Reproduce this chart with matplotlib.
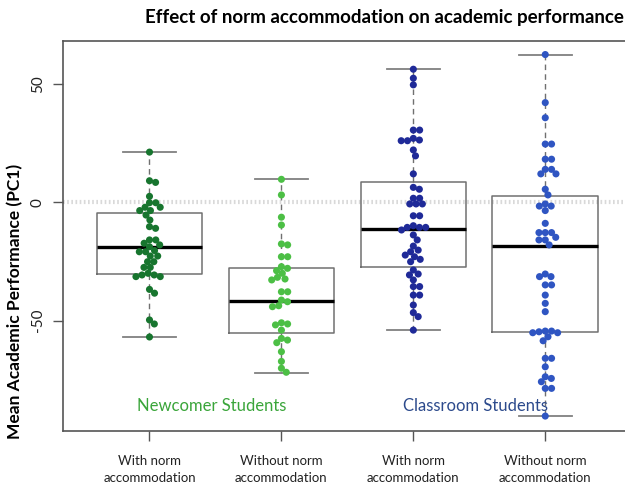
import numpy as np
import matplotlib
matplotlib.use("Agg")
import matplotlib.pyplot as plt

plt.rcParams['font.family'] = ['Lato', 'DejaVu Sans']

# group order on the x axis
groups = ["With norm\naccommodation", "Without norm\naccommodation",
          "With norm\naccommodation", "Without norm\naccommodation"]

# mean academic performance (PC1) per student
new_with = [21.2, 9.1, 8.4, 2.5, -0.2, -0.2, -2.1, -2.1, -3.5, -3.5, -5.4, -7.5,
            -10.3, -11.0, -15.9, -15.9, -17.3, -18.0, -18.8, -20.4, -20.9, -20.9,
            -22.7, -22.7, -25.1, -25.1, -27.5, -27.5, -30.0, -30.7, -30.7, -31.4,
            -31.4, -36.8, -38.4, -49.7, -51.4, -56.9]
new_without = [9.7, 3.1, -6.3, -9.6, -17.6, -18.0, -23.0, -23.0, -27.2, -27.9,
               -28.9, -30.0, -31.7, -32.4, -32.8, -37.8, -37.8, -41.3, -42.0,
               -43.7, -44.1, -50.9, -51.4, -51.8, -54.0, -57.5, -58.2, -59.3,
               -63.1, -67.2, -70.1, -71.8]
class_with = [56.2, 52.4, 49.6, 30.5, 30.5, 27.0, 26.3, 26.0, 26.0, 22.1, 19.6,
              12.0, 6.3, 5.5, 1.7, 1.7, -0.7, -0.7, -0.7, -5.7, -5.7, -9.9,
              -10.6, -10.6, -10.6, -11.7, -13.8, -15.9, -18.5, -20.2, -20.9,
              -22.3, -23.0, -24.1, -25.1, -28.6, -30.3, -30.7, -32.8, -35.6,
              -35.6, -39.2, -39.2, -43.4, -46.6, -48.3, -54.0]
class_without = [62.4, 42.1, 35.7, 24.6, 24.6, 18.2, 18.2, 13.9, 13.9, 12.0, 12.0,
                 5.5, 3.1, -0.7, -1.6, -1.6, -3.5, -8.9, -12.8, -12.8, -12.8,
                 -14.8, -15.9, -15.9, -18.0, -30.3, -31.4, -31.4, -34.9, -34.9,
                 -39.2, -42.7, -46.2, -54.4, -54.4, -54.7, -55.1, -55.1, -56.8,
                 -58.5, -65.9, -65.9, -69.5, -73.7, -74.4, -75.8, -78.6, -78.6,
                 -90.3]

# box summaries: lower whisker, Q1, median, Q3, upper whisker
whislo = [-56.9, -72.0, -54.1, -90.4]
q1 = [-30.3, -55.1, -27.2, -54.9]
med = [-18.9, -41.8, -11.3, -18.5]
q3 = [-4.5, -27.9, 8.7, 2.8]
whishi = [21.4, 9.7, 56.2, 62.4]

dot_colors = ["#17752e", "#4cbf45", "#1f2a98", "#2f55c2"]
series = [new_with, new_without, class_with, class_without]

fig = plt.figure(figsize=(6.25, 4.83), dpi=100)
ax = fig.add_axes([0.1003, 0.1077, 0.911, 0.8073])
ax.set_xlim(0.342, 4.658)
ax.set_ylim(-96.6, 68.1)

# dotted reference line at zero
ax.axhline(0, color="#d9d9d9", lw=3, ls=(0, (0.4, 0.6)), zorder=0)

stats = []
for i in range(4):
    stats.append(dict(whislo=whislo[i], q1=q1[i], med=med[i], q3=q3[i],
                      whishi=whishi[i], fliers=[]))
ax.bxp(stats, positions=[1, 2, 3, 4], widths=0.8, showfliers=False,
       boxprops=dict(color="#707070", lw=1.1),
       whiskerprops=dict(color="#707070", lw=1.0, ls=(0, (4, 3))),
       capprops=dict(color="#808080", lw=1.3),
       medianprops=dict(color="black", lw=2.4),
       capwidths=0.4, manage_ticks=False)


def swarm_offsets(vals, d):
    # greedy beeswarm in pixel space, returns x offsets in pixels
    ys = ax.transData.transform(np.c_[np.zeros(len(vals)), vals])[:, 1]
    order = np.argsort(-ys)
    placed = []
    xs = np.zeros(len(vals))
    for i in order:
        y = ys[i]
        cands = [0.0]
        for px, py in placed:
            dy = y - py
            if abs(dy) < d:
                dx = np.sqrt(d * d - dy * dy)
                cands += [px + dx, px - dx]
        cands.sort(key=abs)
        for c in cands:
            if all((c - px) ** 2 + (y - py) ** 2 >= d * d - 1e-6 for px, py in placed):
                break
        xs[i] = c
        placed.append((c, y))
    return xs


px_per_unit = ax.transData.transform([[1, 0]])[0, 0] - ax.transData.transform([[0, 0]])[0, 0]
for i, vals in enumerate(series):
    off = swarm_offsets(np.array(vals), 6.3)
    ax.scatter(i + 1 + off / px_per_unit, vals, s=26, color=dot_colors[i],
               edgecolors="none", zorder=3)

ax.set_xticks([1, 2, 3, 4])
ax.set_xticklabels(groups, fontsize=9.5, color="#222222", linespacing=1.5)
ax.set_yticks([-50, 0, 50])
ax.set_yticklabels(["-50", "0", "50"], rotation=90, va="center", fontsize=11,
                   color="#222222")
ax.tick_params(axis="both", length=7, width=1, color="#555555", pad=6)
ax.tick_params(axis="x", pad=10)
for s in ax.spines.values():
    s.set_color("#555555")
    s.set_linewidth(1.2)

ax.text(1.47, -86.1, "Newcomer Students", fontsize=12, color="#3aa53a",
        ha="center", va="center")
ax.text(3.47, -86.1, "Classroom Students", fontsize=12, color="#2c4a8c",
        ha="center", va="center")

fig.text(384 / 625, 1 - 18 / 483, "Effect of norm accommodation on academic performance",
         fontsize=13.5, fontweight="bold", ha="center", va="center")
fig.text(15 / 625, 1 - 301 / 483, "Mean Academic Performance (PC1)", rotation=90,
         fontsize=12.5, fontweight="bold", ha="center", va="center")

fig.savefig("out.png", dpi=100)
